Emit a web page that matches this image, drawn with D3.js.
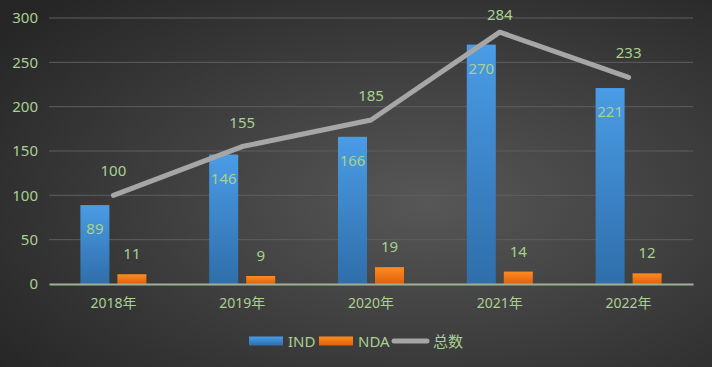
<!DOCTYPE html>
<html>
<head>
<meta charset="utf-8">
<script src="https://cdn.jsdelivr.net/npm/d3@7"></script>
<style>
  body { margin: 0; background: #333; }
  svg { display: block; }
</style>
</head>
<body>
<script>
const categories = ['2018年', '2019年', '2020年', '2021年', '2022年'];
const indValues = [89, 146, 166, 270, 221];
const ndaValues = [11, 9, 19, 14, 12];
const totalValues = [100, 155, 185, 284, 233];
const yTicks = [0, 50, 100, 150, 200, 250, 300];

const W = 712, H = 367;
const margin = { top: 18, right: 19, bottom: 83, left: 49 };
const width = W - margin.left - margin.right,
      height = H - margin.top - margin.bottom;
const textColor = '#a9d18e';
const font = '"Noto Sans", "Noto Sans CJK SC", sans-serif';

const svg = d3.select('body').append('svg')
  .attr('width', W)
  .attr('height', H);

const defs = svg.append('defs');
const bg = defs.append('radialGradient')
  .attr('id', 'bg')
  .attr('cx', '60%').attr('cy', '55%').attr('r', '75%');
bg.append('stop').attr('offset', '0%').attr('stop-color', '#575757');
bg.append('stop').attr('offset', '100%').attr('stop-color', '#262626');

const blueGrad = defs.append('linearGradient')
  .attr('id', 'blueGrad').attr('x1', 0).attr('y1', 0).attr('x2', 0).attr('y2', 1);
blueGrad.append('stop').attr('offset', '0%').attr('stop-color', '#4a9ce6');
blueGrad.append('stop').attr('offset', '100%').attr('stop-color', '#2f6eaa');

const orangeGrad = defs.append('linearGradient')
  .attr('id', 'orangeGrad').attr('x1', 0).attr('y1', 0).attr('x2', 0).attr('y2', 1);
orangeGrad.append('stop').attr('offset', '0%').attr('stop-color', '#ff8c1f');
orangeGrad.append('stop').attr('offset', '100%').attr('stop-color', '#e0600a');

svg.append('rect')
  .attr('width', W).attr('height', H)
  .attr('fill', 'url(#bg)');

const g = svg.append('g')
  .attr('transform', `translate(${margin.left}, ${margin.top})`);

const xScale = d3.scaleBand()
  .domain(categories)
  .range([0, width]);

const yScale = d3.scaleLinear()
  .domain([0, 300])
  .range([height, 0]);

// gridlines
g.append('g')
  .selectAll('line')
  .data(yTicks.filter(d => d > 0))
  .enter()
    .append('line')
    .attr('x1', 0).attr('x2', width)
    .attr('y1', d => yScale(d)).attr('y2', d => yScale(d))
    .attr('stroke', '#5e5e5e')
    .attr('stroke-width', 1);

// y-axis labels
const yAxis = d3.axisLeft(yScale).tickValues(yTicks).tickSize(0).tickPadding(11);
g.append('g')
  .call(yAxis)
  .call(s => s.select('.domain').remove())
  .selectAll('text')
    .style('fill', textColor)
    .style('font-family', font)
    .style('font-size', '15px');

const barW = 29, gap = 8;
const cx = d => xScale(d) + xScale.bandwidth() / 2;

// IND bars
g.selectAll('.ind')
  .data(categories)
  .enter()
    .append('rect')
    .attr('class', 'ind')
    .attr('fill', 'url(#blueGrad)')
    .attr('x', d => cx(d) - gap / 2 - barW)
    .attr('y', (d, i) => yScale(indValues[i]))
    .attr('width', barW)
    .attr('height', (d, i) => height - yScale(indValues[i]));

// NDA bars
g.selectAll('.nda')
  .data(categories)
  .enter()
    .append('rect')
    .attr('class', 'nda')
    .attr('fill', 'url(#orangeGrad)')
    .attr('x', d => cx(d) + gap / 2)
    .attr('y', (d, i) => yScale(ndaValues[i]))
    .attr('width', barW)
    .attr('height', (d, i) => height - yScale(ndaValues[i]));

// baseline axis
const xAxis = d3.axisBottom(xScale).tickSize(0).tickPadding(14);
g.append('g')
  .attr('transform', `translate(0, ${height})`)
  .call(xAxis)
  .call(s => s.select('.domain').attr('stroke', '#9db197').attr('stroke-width', 2))
  .selectAll('text')
    .style('fill', textColor)
    .style('font-family', font)
    .style('font-size', '14px');

// total line
const line = d3.line()
  .x(d => cx(d))
  .y((d, i) => yScale(totalValues[i]));

g.append('path')
  .datum(categories)
  .attr('d', line)
  .attr('fill', 'none')
  .attr('stroke', '#a6a6a6')
  .attr('stroke-width', 5)
  .attr('stroke-linecap', 'round')
  .attr('stroke-linejoin', 'round');

// labels
const labelStyle = s => s
  .attr('text-anchor', 'middle')
  .attr('fill', textColor)
  .style('font-family', font)
  .style('font-size', '15px');

g.selectAll('.indLabel')
  .data(categories)
  .enter()
    .append('text')
    .attr('x', d => cx(d) - gap / 2 - barW / 2)
    .attr('y', (d, i) => yScale(indValues[i]) + 29)
    .text((d, i) => indValues[i])
    .call(labelStyle);

g.selectAll('.ndaLabel')
  .data(categories)
  .enter()
    .append('text')
    .attr('x', d => cx(d) + gap / 2 + barW / 2)
    .attr('y', (d, i) => yScale(ndaValues[i]) - 15)
    .text((d, i) => ndaValues[i])
    .call(labelStyle);

g.selectAll('.totalLabel')
  .data(categories)
  .enter()
    .append('text')
    .attr('x', d => cx(d))
    .attr('y', (d, i) => Math.max(yScale(totalValues[i]) - 19, 2))
    .text((d, i) => totalValues[i])
    .call(labelStyle);

// legend
const legend = svg.append('g').attr('transform', 'translate(249, 341)');
legend.append('rect').attr('x', 0).attr('y', -4.5).attr('width', 34).attr('height', 9).attr('fill', 'url(#blueGrad)');
legend.append('text').attr('x', 39).attr('y', 5.5).text('IND');
legend.append('rect').attr('x', 70).attr('y', -4.5).attr('width', 34).attr('height', 9).attr('fill', 'url(#orangeGrad)');
legend.append('text').attr('x', 109).attr('y', 5.5).text('NDA');
legend.append('line').attr('x1', 145).attr('x2', 178).attr('y1', 0).attr('y2', 0)
  .attr('stroke', '#a6a6a6').attr('stroke-width', 5).attr('stroke-linecap', 'round');
legend.append('text').attr('x', 184).attr('y', 5.5).text('总数');
legend.selectAll('text')
  .attr('fill', textColor)
  .style('font-family', font)
  .style('font-size', '15px');
</script>
</body>
</html>
